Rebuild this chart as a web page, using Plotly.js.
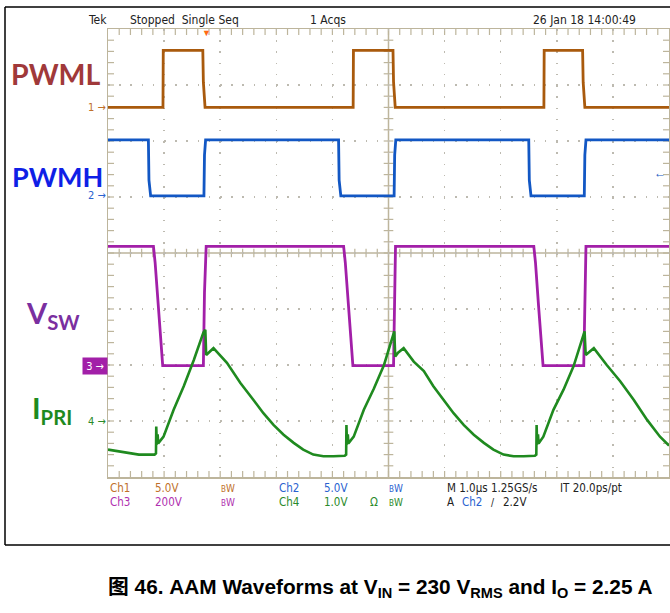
<!DOCTYPE html>
<html>
<head>
<meta charset="utf-8">
<script src="https://cdn.plot.ly/plotly-3.0.1.min.js"></script>
<style>html,body{margin:0;padding:0;background:#fff;}#chart{width:670px;height:613px;}</style>
</head>
<body>
<div id="chart"></div>
<script>
// ---- Data (time in µs, 1 µs/div; amplitude in screen divisions) ----
const ch1Time = [0, 0.98, 0.985, 1.69, 1.70, 1.73, 4.37, 4.375, 5.08, 5.09, 5.12, 7.77, 7.775, 8.46, 8.47, 8.50, 10];
const ch1Div  = [6.60, 6.60, 7.62, 7.62, 7.05, 6.60, 6.60, 7.62, 7.62, 7.05, 6.60, 6.60, 7.62, 7.62, 7.05, 6.60, 6.60];

const ch2Time = [0, 0.72, 0.73, 0.76, 1.71, 1.72, 1.74, 4.11, 4.12, 4.15, 5.10, 5.11, 5.13, 7.50, 7.51, 7.54, 8.49, 8.50, 8.52, 10];
const ch2Div  = [6.02, 6.02, 5.30, 5.02, 5.02, 5.75, 6.02, 6.02, 5.30, 5.02, 5.02, 5.75, 6.02, 6.02, 5.30, 5.02, 5.02, 5.75, 6.02, 6.02];

const ch3Time = [0, 0.81, 0.84, 0.895, 0.95, 0.975, 1.70, 1.72, 1.75, 4.20, 4.23, 4.285, 4.34, 4.365, 5.09, 5.105, 5.125, 7.59, 7.62, 7.675, 7.73, 7.755, 8.48, 8.50, 8.52, 10];
const ch3Div  = [4.12, 4.12, 3.83, 3.05, 2.27, 1.99, 1.99, 3.30, 4.12, 4.12, 3.83, 3.05, 2.27, 1.99, 1.99, 3.30, 4.12, 4.12, 3.83, 3.05, 2.27, 1.99, 1.99, 3.30, 4.12, 4.12];

const ch4Time = [0, 0.30, 0.55, 0.83, 0.855, 0.86, 0.87, 0.885, 0.895, 0.99, 1.17, 1.35, 1.53, 1.70, 1.735, 1.75, 1.80, 1.88, 2.12, 2.36,
                 2.59, 2.77, 2.95, 3.13, 3.31, 3.48, 3.66, 3.84, 4.02, 4.22, 4.245, 4.25, 4.26, 4.275, 4.285, 4.38, 4.56, 4.74, 4.92, 5.09, 5.103, 5.12, 5.17, 5.27,
                 5.45, 5.63, 5.80, 5.98, 6.16, 6.34, 6.52, 6.70, 6.87, 7.05, 7.23, 7.41, 7.61, 7.635, 7.64, 7.65, 7.665, 7.675, 7.76, 7.94, 8.12, 8.30, 8.48, 8.495, 8.515, 8.57, 8.66,
                 8.89, 9.13, 9.37, 9.61, 9.84, 10];
const ch4Div  = [0.49, 0.44, 0.40, 0.40, 0.42, 0.90, 0.58, 0.76, 0.60, 0.72, 1.20, 1.62, 2.09, 2.58, 2.63, 2.18, 2.22, 2.30, 2.04, 1.68,
                 1.38, 1.14, 0.93, 0.755, 0.61, 0.49, 0.40, 0.37, 0.37, 0.38, 0.40, 0.93, 0.58, 0.76, 0.60, 0.72, 1.20, 1.58, 2.00, 2.55, 2.60, 2.15, 2.22, 2.30,
                 2.06, 1.89, 1.62, 1.38, 1.14, 0.93, 0.755, 0.61, 0.49, 0.40, 0.37, 0.37, 0.38, 0.40, 0.93, 0.58, 0.76, 0.60, 0.72, 1.20, 1.56, 1.98, 2.54, 2.60, 2.18, 2.22, 2.30,
                 2.00, 1.71, 1.38, 1.02, 0.72, 0.56];

const chLevels = [6.60, 5.02, 1.99, 0.99];   // ground reference markers 1..4
const chNames  = ['1', '2', '3', '4'];

// ---- Styling ----
const C1 = '#a95a0d', C2 = '#1257c4', C3 = '#a21fa8', C4 = '#1f8a1f';
const T1 = '#c0702a', T2 = '#2a62d0', T3 = '#b030b0', T4 = '#2a8a2a';
const TAN = '#bdb59c';
const GRIDC = '#bdbab0';
const L = 108, R = 1, T = 29, B = 136, W = 670, H = 613;
const PW = W - L - R, PH = H - T - B;
const px = x => (x - L) / PW;
const py = y => (H - B - y) / PH;

const mk = (x, y, color, w) => ({x: x, y: y, type: 'scatter', mode: 'lines', line: {color: color, width: w}, hoverinfo: 'skip', showlegend: false});
const data = [mk(ch1Time, ch1Div, C1, 2.8), mk(ch2Time, ch2Div, C2, 2.8), mk(ch3Time, ch3Div, C3, 2.8), mk(ch4Time, ch4Div, C4, 2.6)];

// graticule shapes
const shapes = [];
const ln = (x0, y0, x1, y1, w) => shapes.push({type: 'line', xref: 'x', yref: 'y', x0, y0, x1, y1, line: {color: TAN, width: w || 1.2}, layer: 'below'});
ln(5, 0, 5, 8, 1.5);
ln(0, 4, 10, 4, 1.5);
const tx = 6 / 56.1, ty = 6 / 56;
for (let i = 1; i < 50; i++) {
  const x = i * 0.2;
  ln(x, 8, x, 8 - ty); ln(x, 0, x, ty);
  ln(x, 4 - ty * 0.7, x, 4 + ty * 0.7);
}
for (let j = 1; j < 40; j++) {
  const y = j * 0.2;
  ln(0, y, tx, y); ln(10, y, 10 - tx, y);
  ln(5 - tx * 0.8, y, 5 + tx * 0.8, y);
}
// outer screenshot frame
const fr = (x0, y0, x1, y1) => shapes.push({type: 'line', xref: 'paper', yref: 'paper', x0: px(x0), y0: py(y0), x1: px(x1), y1: py(y1), line: {color: '#000', width: 1.5}});
fr(5, 7, 5, 545); fr(5, 7, 672, 7); fr(5, 545, 672, 545);

const SCOPE = 'Liberation Sans Narrow, DejaVu Sans Condensed, Arial Narrow, sans-serif';
const ann = [];
const txt = (x, y, s, color, size, extra) => ann.push(Object.assign({xref: 'paper', yref: 'paper', x: px(x), y: py(y), text: s, showarrow: false, xanchor: 'left', yanchor: 'middle', font: {family: SCOPE, size: size || 11.5, color: color}}, extra || {}));

// header
txt(86, 20, 'Tek', '#222', 12);
txt(128, 20, 'Stopped  Single Seq', '#222', 12);
txt(308, 20, '1 Acqs', '#222', 12);
txt(531, 20, '26 Jan 18 14:00:49', '#222', 12);
ann.push({xref: 'x', yref: 'paper', x: 1.75, y: py(32), text: '▼', showarrow: false, xanchor: 'center', yanchor: 'middle', font: {size: 9, color: '#ff6a13'}});
ann.push({xref: 'paper', yref: 'y', x: px(660), y: 5.43, text: '←', showarrow: false, xanchor: 'center', yanchor: 'middle', font: {size: 12, color: C2}});

// channel ground markers
const mcol = [T1, T2, '#fff', T4];
chNames.forEach((n, i) => {
  const a = {xref: 'paper', yref: 'y', x: 0, y: chLevels[i], text: n + ' →', showarrow: false, xanchor: 'right', yanchor: 'middle', font: {family: SCOPE, size: 11, color: mcol[i]}};
  if (i === 2) { a.bgcolor = '#a21fa8'; a.borderpad = 1; a.width = 22; a.height = 14; }
  ann.push(a);
});

// readouts
txt(108, 488, 'Ch1', T1); txt(153, 488, '5.0V', T1); txt(219, 488, '<span style="font-size:8px">B</span>W', T1, 10);
txt(277, 488, 'Ch2', T2); txt(322, 488, '5.0V', T2); txt(387, 488, '<span style="font-size:8px">B</span>W', T2, 10);
txt(445, 488, 'M 1.0µs 1.25GS/s', '#222'); txt(558, 488, 'IT 20.0ps/pt', '#222');
txt(108, 502, 'Ch3', T3); txt(153, 502, '200V', T3); txt(219, 502, '<span style="font-size:8px">B</span>W', T3, 10);
txt(277, 502, 'Ch4', T4); txt(322, 502, '1.0V', T4); txt(368, 502, 'Ω', T4); txt(387, 502, '<span style="font-size:8px">B</span>W', T4, 10);
txt(445, 502, 'A', '#222'); txt(460, 502, 'Ch2', T2); txt(489, 502, '/', '#222', 10); txt(501, 502, '2.2V', '#222');

// big signal labels
const BIG = 'Lato, Open Sans, sans-serif';
const big = (x, y, s, color, size) => ann.push({xref: 'paper', yref: 'paper', x: px(x), y: py(y), text: '<b>' + s + '</b>', showarrow: false, xanchor: 'left', yanchor: 'middle', font: {family: BIG, size: size, color: color}});
big(9, 74, 'PWML', '#a0393a', 28.5);
big(10, 176, 'PWMH', '#0f1fe6', 27);
big(24, 314, 'V<sub>SW</sub>', '#7a2fa0', 29);
big(30, 409, 'I<sub>PRI</sub>', '#1e8a1e', 29);

// caption
ann.push({xref: 'paper', yref: 'paper', x: px(106), y: py(588), text: '<b>图 46. AAM Waveforms at V<sub>IN</sub> = 230 V<sub>RMS</sub> and I<sub>O</sub> = 2.25 A</b>', showarrow: false, xanchor: 'left', yanchor: 'middle', font: {family: 'Liberation Sans, Arial, Noto Sans CJK SC, sans-serif', size: 20.8, color: '#000'}});

const axis = (range, dash) => ({range: range, dtick: 1, tick0: 0, showgrid: true, gridcolor: GRIDC, gridwidth: 1.5, griddash: dash, zeroline: false, showline: true, mirror: true, linecolor: TAN, linewidth: 1.5, ticks: '', showticklabels: false, fixedrange: true});

const layout = {
  width: W, height: H,
  margin: {l: L, r: R, t: T, b: B, pad: 0},
  paper_bgcolor: '#fff', plot_bgcolor: '#fff',
  xaxis: axis([0, 10], '1.5px,9.72px'),
  yaxis: axis([0, 8], '1.5px,9.7px'),
  shapes: shapes,
  annotations: ann,
  showlegend: false
};
Plotly.newPlot('chart', data, layout, {displayModeBar: false, staticPlot: true});
</script>
</body>
</html>
